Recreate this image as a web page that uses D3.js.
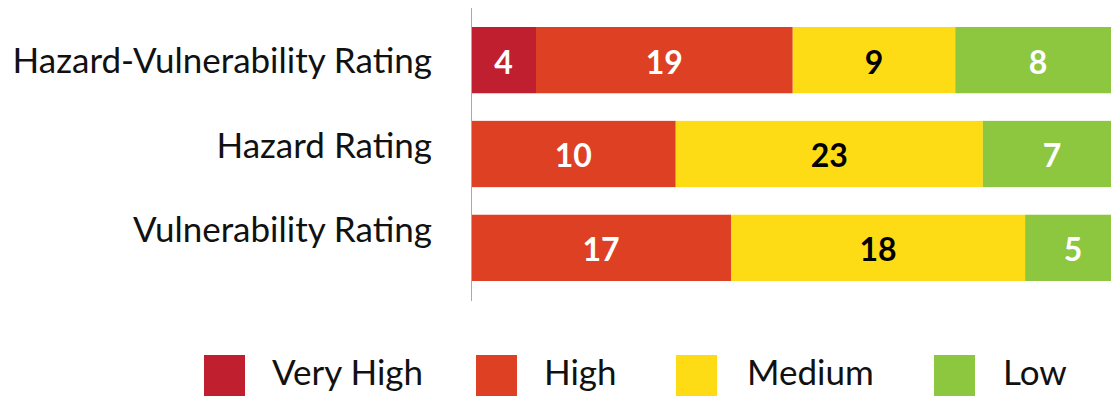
<!DOCTYPE html>
<html>
<head>
<meta charset="utf-8">
<script src="https://cdn.jsdelivr.net/npm/d3@7"></script>
<style>
  body { margin: 0; background: #fff; }
  svg { display: block; font-family: Lato, "Open Sans", sans-serif; }
</style>
</head>
<body>
<svg id="chart" width="1111" height="396"></svg>
<script>
// categories (top to bottom)
var categories = ["Hazard-Vulnerability Rating", "Hazard Rating", "Vulnerability Rating"];
var levels = ["Very High", "High", "Medium", "Low"];
var colors = ["#c01f2f", "#de4024", "#fddc16", "#8dc63f"];

// counts printed on each segment
var veryHighCounts = [4, 0, 0];
var highCounts = [19, 10, 17];
var mediumCounts = [9, 23, 18];
var lowCounts = [8, 7, 5];

// segment lengths as drawn (out of 40)
var veryHighLen = [4, 0, 0];
var highLen = [15.8, 12.6, 16.0];
var mediumLen = [10.0, 18.9, 18.1];
var lowLen = [10.2, 8.5, 5.9];

var svg = d3.select("#chart");

var x = d3.scaleLinear().domain([0, 40]).range([471, 1121]);
var y = d3.scaleBand().domain(categories).range([27, 281]).paddingInner(0.294).paddingOuter(0);
// label baselines sit a little off the bar centres in the original
var yLabel = d3.scalePoint().domain(categories).range([73, 242]);

var counts = [veryHighCounts, highCounts, mediumCounts, lowCounts];
var lens = [veryHighLen, highLen, mediumLen, lowLen];

// build stacked rows
var rows = categories.map(function (c, i) {
    var row = { cat: c };
    levels.forEach(function (l, j) { row[l] = lens[j][i]; });
    return row;
});
var stacked = d3.stack().keys(levels)(rows);

var g = svg.append("g");
stacked.forEach(function (layer, j) {
    layer.forEach(function (d, i) {
        var v = counts[j][i];
        if (!v) return;
        var x0 = x(d[0]), x1 = x(d[1]);
        g.append("rect")
            .attr("x", x0)
            .attr("y", y(categories[i]))
            .attr("width", x1 - x0)
            .attr("height", y.bandwidth())
            .attr("fill", colors[j]);
        g.append("text")
            .attr("x", (x0 + x1) / 2)
            .attr("y", y(categories[i]) + y.bandwidth() / 2)
            .attr("dy", "0.42em")
            .attr("text-anchor", "middle")
            .attr("font-weight", "bold")
            .attr("font-size", 32)
            .attr("fill", j === 2 ? "#000" : "#fff")
            .text(v);
    });
});

// vertical axis line
svg.append("line")
    .attr("x1", 471.5).attr("x2", 471.5)
    .attr("y1", 8).attr("y2", 301)
    .attr("stroke", "#aaa").attr("stroke-width", 1);

// category labels
svg.selectAll("text.cat")
    .data(categories)
    .enter().append("text")
    .attr("class", "cat")
    .attr("x", 432)
    .attr("y", function (d) { return yLabel(d); })
    .attr("text-anchor", "end")
    .attr("font-size", 35)
    .attr("fill", "#111")
    .text(function (d) { return d; });

// legend
var legendX = [204, 476, 676, 934];
var lg = svg.selectAll("g.legend")
    .data(levels)
    .enter().append("g")
    .attr("class", "legend")
    .attr("transform", function (d, i) { return "translate(" + legendX[i] + ",355)"; });
lg.append("rect")
    .attr("width", 41).attr("height", 41)
    .attr("fill", function (d, i) { return colors[i]; });
lg.append("text")
    .attr("x", function (d, i) { return [68, 68, 71, 69][i]; })
    .attr("y", 30)
    .attr("font-size", 35)
    .attr("fill", "#111")
    .text(function (d) { return d; });
</script>
</body>
</html>
